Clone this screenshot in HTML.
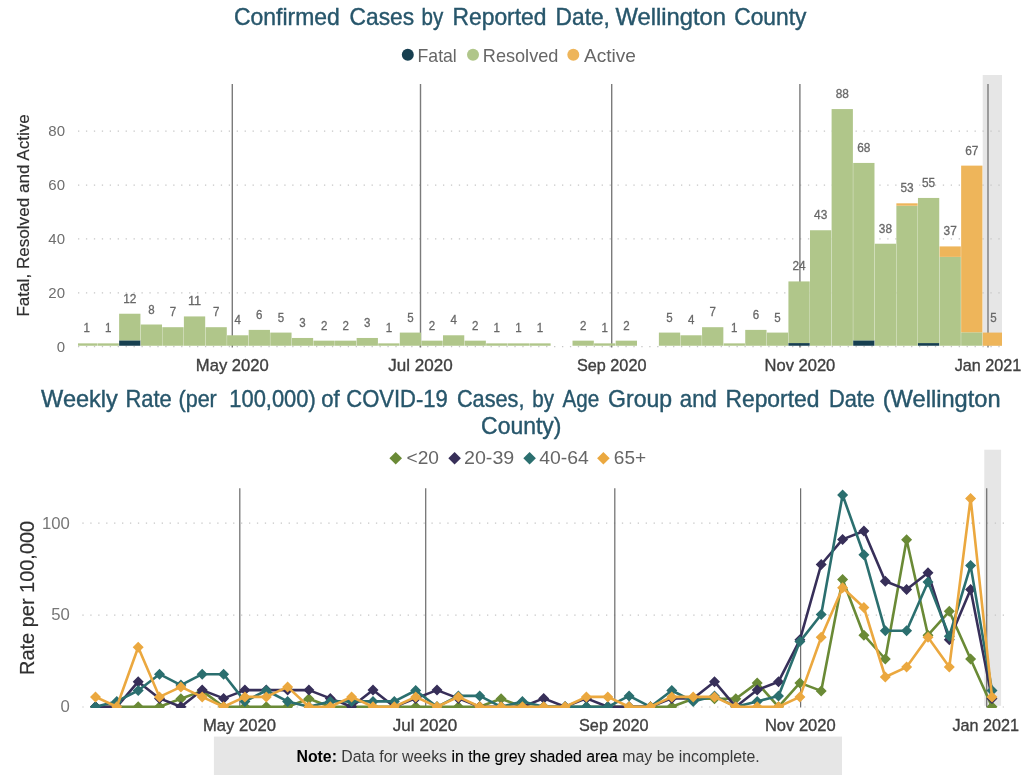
<!DOCTYPE html>
<html lang="en">
<head>
<meta charset="utf-8">
<title>Confirmed Cases by Reported Date, Wellington County</title>
<style>
html,body{margin:0;padding:0;background:#fff;}
body{width:1024px;height:775px;overflow:hidden;}
svg{display:block;font-family:"Liberation Sans","DejaVu Sans",sans-serif;}
</style>
</head>
<body>
<svg width="1024" height="775" viewBox="0 0 1024 775">
<defs>
<filter id="idf" x="0" y="0" width="1024" height="775" filterUnits="userSpaceOnUse" color-interpolation-filters="sRGB"><feOffset dx="0" dy="0"/></filter>
<clipPath id="c1"><rect x="78" y="70" width="924" height="277"/></clipPath>
<clipPath id="c2"><rect x="82" y="440" width="922" height="268"/></clipPath>
</defs>
<rect width="1024" height="775" fill="#fff"/>
<g filter="url(#idf)">
<rect x="982.7" y="75" width="19.3" height="270.8" fill="#e6e6e6"/>
<line x1="78.0" x2="1002" y1="346.70" y2="346.70" stroke="#c6c6c6" stroke-width="1.2" stroke-dasharray="1.3 6.634"/>
<line x1="78.0" x2="1002" y1="292.82" y2="292.82" stroke="#c6c6c6" stroke-width="1.2" stroke-dasharray="1.3 6.634"/>
<line x1="78.0" x2="1002" y1="238.94" y2="238.94" stroke="#c6c6c6" stroke-width="1.2" stroke-dasharray="1.3 6.634"/>
<line x1="78.0" x2="1002" y1="185.06" y2="185.06" stroke="#c6c6c6" stroke-width="1.2" stroke-dasharray="1.3 6.634"/>
<line x1="78.0" x2="1002" y1="131.18" y2="131.18" stroke="#c6c6c6" stroke-width="1.2" stroke-dasharray="1.3 6.634"/>
<line x1="232.3" x2="232.3" y1="84.0" y2="347.4" stroke="#7b7b7b" stroke-width="1.4"/>
<line x1="420.5" x2="420.5" y1="84.0" y2="347.4" stroke="#7b7b7b" stroke-width="1.4"/>
<line x1="611.7" x2="611.7" y1="84.0" y2="347.4" stroke="#7b7b7b" stroke-width="1.4"/>
<line x1="799.9" x2="799.9" y1="84.0" y2="347.4" stroke="#7b7b7b" stroke-width="1.4"/>
<line x1="988.0" x2="988.0" y1="84.0" y2="347.4" stroke="#7b7b7b" stroke-width="1.4"/>
<g clip-path="url(#c1)">
<rect x="75.95" y="343.36" width="21.29" height="2.39" fill="#b0c68a"/>
<rect x="97.54" y="343.36" width="21.29" height="2.39" fill="#b0c68a"/>
<rect x="119.13" y="340.36" width="21.29" height="5.39" fill="#173f50"/>
<rect x="119.13" y="313.73" width="21.29" height="26.63" fill="#b0c68a"/>
<rect x="140.72" y="324.51" width="21.29" height="21.24" fill="#b0c68a"/>
<rect x="162.31" y="327.20" width="21.29" height="18.55" fill="#b0c68a"/>
<rect x="183.90" y="316.43" width="21.29" height="29.32" fill="#b0c68a"/>
<rect x="205.49" y="327.20" width="21.29" height="18.55" fill="#b0c68a"/>
<rect x="227.08" y="335.28" width="21.29" height="10.47" fill="#b0c68a"/>
<rect x="248.67" y="329.89" width="21.29" height="15.86" fill="#b0c68a"/>
<rect x="270.26" y="332.59" width="21.29" height="13.16" fill="#b0c68a"/>
<rect x="291.85" y="337.97" width="21.29" height="7.78" fill="#b0c68a"/>
<rect x="313.44" y="340.66" width="21.29" height="5.09" fill="#b0c68a"/>
<rect x="335.03" y="340.66" width="21.29" height="5.09" fill="#b0c68a"/>
<rect x="356.62" y="337.97" width="21.29" height="7.78" fill="#b0c68a"/>
<rect x="378.21" y="343.36" width="21.29" height="2.39" fill="#b0c68a"/>
<rect x="399.80" y="332.59" width="21.29" height="13.16" fill="#b0c68a"/>
<rect x="421.39" y="340.66" width="21.29" height="5.09" fill="#b0c68a"/>
<rect x="442.98" y="335.28" width="21.29" height="10.47" fill="#b0c68a"/>
<rect x="464.57" y="340.66" width="21.29" height="5.09" fill="#b0c68a"/>
<rect x="486.16" y="343.36" width="21.29" height="2.39" fill="#b0c68a"/>
<rect x="507.75" y="343.36" width="21.29" height="2.39" fill="#b0c68a"/>
<rect x="529.34" y="343.36" width="21.29" height="2.39" fill="#b0c68a"/>
<rect x="572.52" y="340.66" width="21.29" height="5.09" fill="#b0c68a"/>
<rect x="594.11" y="343.36" width="21.29" height="2.39" fill="#b0c68a"/>
<rect x="615.70" y="340.66" width="21.29" height="5.09" fill="#b0c68a"/>
<rect x="658.88" y="332.59" width="21.29" height="13.16" fill="#b0c68a"/>
<rect x="680.47" y="335.28" width="21.29" height="10.47" fill="#b0c68a"/>
<rect x="702.06" y="327.20" width="21.29" height="18.55" fill="#b0c68a"/>
<rect x="723.65" y="343.36" width="21.29" height="2.39" fill="#b0c68a"/>
<rect x="745.24" y="329.89" width="21.29" height="15.86" fill="#b0c68a"/>
<rect x="766.83" y="332.59" width="21.29" height="13.16" fill="#b0c68a"/>
<rect x="788.42" y="343.06" width="21.29" height="2.69" fill="#173f50"/>
<rect x="788.42" y="281.42" width="21.29" height="61.64" fill="#b0c68a"/>
<rect x="810.01" y="230.25" width="21.29" height="115.50" fill="#b0c68a"/>
<rect x="831.60" y="109.07" width="21.29" height="236.68" fill="#b0c68a"/>
<rect x="853.19" y="340.36" width="21.29" height="5.39" fill="#173f50"/>
<rect x="853.19" y="162.93" width="21.29" height="177.44" fill="#b0c68a"/>
<rect x="874.78" y="243.72" width="21.29" height="102.03" fill="#b0c68a"/>
<rect x="896.37" y="205.71" width="21.29" height="140.04" fill="#b0c68a"/>
<rect x="896.37" y="203.32" width="21.29" height="2.39" fill="#eeb55a"/>
<rect x="917.96" y="343.06" width="21.29" height="2.69" fill="#173f50"/>
<rect x="917.96" y="197.94" width="21.29" height="145.12" fill="#b0c68a"/>
<rect x="939.55" y="256.88" width="21.29" height="88.87" fill="#b0c68a"/>
<rect x="939.55" y="246.41" width="21.29" height="10.47" fill="#eeb55a"/>
<rect x="961.14" y="332.29" width="21.29" height="13.46" fill="#b0c68a"/>
<rect x="961.14" y="165.62" width="21.29" height="166.67" fill="#eeb55a"/>
<rect x="982.73" y="332.59" width="21.29" height="13.16" fill="#eeb55a"/>
</g>
<g font-size="12.5" fill="#686868" stroke="#686868" stroke-width="0.3" text-anchor="middle">
<text x="86.59" y="332.36" textLength="6.4" lengthAdjust="spacingAndGlyphs">1</text>
<text x="108.19" y="332.36" textLength="6.4" lengthAdjust="spacingAndGlyphs">1</text>
<text x="129.78" y="302.73" textLength="13.2" lengthAdjust="spacingAndGlyphs">12</text>
<text x="151.37" y="313.51" textLength="6.4" lengthAdjust="spacingAndGlyphs">8</text>
<text x="172.95" y="316.20" textLength="6.4" lengthAdjust="spacingAndGlyphs">7</text>
<text x="194.55" y="305.43" textLength="13.2" lengthAdjust="spacingAndGlyphs">11</text>
<text x="216.13" y="316.20" textLength="6.4" lengthAdjust="spacingAndGlyphs">7</text>
<text x="237.73" y="324.28" textLength="6.4" lengthAdjust="spacingAndGlyphs">4</text>
<text x="259.31" y="318.89" textLength="6.4" lengthAdjust="spacingAndGlyphs">6</text>
<text x="280.90" y="321.59" textLength="6.4" lengthAdjust="spacingAndGlyphs">5</text>
<text x="302.50" y="326.97" textLength="6.4" lengthAdjust="spacingAndGlyphs">3</text>
<text x="324.08" y="329.66" textLength="6.4" lengthAdjust="spacingAndGlyphs">2</text>
<text x="345.68" y="329.66" textLength="6.4" lengthAdjust="spacingAndGlyphs">2</text>
<text x="367.26" y="326.97" textLength="6.4" lengthAdjust="spacingAndGlyphs">3</text>
<text x="388.86" y="332.36" textLength="6.4" lengthAdjust="spacingAndGlyphs">1</text>
<text x="410.44" y="321.59" textLength="6.4" lengthAdjust="spacingAndGlyphs">5</text>
<text x="432.04" y="329.66" textLength="6.4" lengthAdjust="spacingAndGlyphs">2</text>
<text x="453.62" y="324.28" textLength="6.4" lengthAdjust="spacingAndGlyphs">4</text>
<text x="475.22" y="329.66" textLength="6.4" lengthAdjust="spacingAndGlyphs">2</text>
<text x="496.81" y="332.36" textLength="6.4" lengthAdjust="spacingAndGlyphs">1</text>
<text x="518.39" y="332.36" textLength="6.4" lengthAdjust="spacingAndGlyphs">1</text>
<text x="539.99" y="332.36" textLength="6.4" lengthAdjust="spacingAndGlyphs">1</text>
<text x="583.16" y="329.66" textLength="6.4" lengthAdjust="spacingAndGlyphs">2</text>
<text x="604.75" y="332.36" textLength="6.4" lengthAdjust="spacingAndGlyphs">1</text>
<text x="626.34" y="329.66" textLength="6.4" lengthAdjust="spacingAndGlyphs">2</text>
<text x="669.52" y="321.59" textLength="6.4" lengthAdjust="spacingAndGlyphs">5</text>
<text x="691.11" y="324.28" textLength="6.4" lengthAdjust="spacingAndGlyphs">4</text>
<text x="712.70" y="316.20" textLength="6.4" lengthAdjust="spacingAndGlyphs">7</text>
<text x="734.29" y="332.36" textLength="6.4" lengthAdjust="spacingAndGlyphs">1</text>
<text x="755.88" y="318.89" textLength="6.4" lengthAdjust="spacingAndGlyphs">6</text>
<text x="777.47" y="321.59" textLength="6.4" lengthAdjust="spacingAndGlyphs">5</text>
<text x="799.06" y="270.42" textLength="13.2" lengthAdjust="spacingAndGlyphs">24</text>
<text x="820.65" y="219.25" textLength="13.2" lengthAdjust="spacingAndGlyphs">43</text>
<text x="842.25" y="98.07" textLength="13.2" lengthAdjust="spacingAndGlyphs">88</text>
<text x="863.83" y="151.93" textLength="13.2" lengthAdjust="spacingAndGlyphs">68</text>
<text x="885.42" y="232.72" textLength="13.2" lengthAdjust="spacingAndGlyphs">38</text>
<text x="907.01" y="192.32" textLength="13.2" lengthAdjust="spacingAndGlyphs">53</text>
<text x="928.60" y="186.94" textLength="13.2" lengthAdjust="spacingAndGlyphs">55</text>
<text x="950.19" y="235.41" textLength="13.2" lengthAdjust="spacingAndGlyphs">37</text>
<text x="971.78" y="154.62" textLength="13.2" lengthAdjust="spacingAndGlyphs">67</text>
<text x="993.38" y="321.59" textLength="6.4" lengthAdjust="spacingAndGlyphs">5</text>
</g>
<g font-size="15" fill="#6e6e6e" text-anchor="end">
<text x="65.0" y="351.50">0</text>
<text x="65.0" y="297.62">20</text>
<text x="65.0" y="243.74">40</text>
<text x="65.0" y="189.86">60</text>
<text x="65.0" y="135.98">80</text>
</g>
<g font-size="17" fill="#404040" stroke="#404040" stroke-width="0.35" text-anchor="middle">
<text x="232.30" y="370.9" textLength="73.0" lengthAdjust="spacingAndGlyphs">May 2020</text>
<text x="420.50" y="370.9" textLength="64.5" lengthAdjust="spacingAndGlyphs">Jul 2020</text>
<text x="611.70" y="370.9" textLength="69.5" lengthAdjust="spacingAndGlyphs">Sep 2020</text>
<text x="799.90" y="370.9" textLength="70.8" lengthAdjust="spacingAndGlyphs">Nov 2020</text>
<text x="988.00" y="370.9" textLength="66.6" lengthAdjust="spacingAndGlyphs">Jan 2021</text>
</g>
<text transform="translate(28.7,316.6) rotate(-90)" font-size="17.2" fill="#303030" stroke="#303030" stroke-width="0.2" textLength="202.4" lengthAdjust="spacingAndGlyphs">Fatal, Resolved and Active</text>
<g font-size="23.2" fill="#27566b" stroke="#27566b" stroke-width="0.4">
<text x="234.00" y="24.7" textLength="105.80" lengthAdjust="spacingAndGlyphs">Confirmed</text>
<text x="349.60" y="24.7" textLength="64.50" lengthAdjust="spacingAndGlyphs">Cases</text>
<text x="421.60" y="24.7" textLength="21.70" lengthAdjust="spacingAndGlyphs">by</text>
<text x="452.50" y="24.7" textLength="94.00" lengthAdjust="spacingAndGlyphs">Reported</text>
<text x="555.60" y="24.7" textLength="54.30" lengthAdjust="spacingAndGlyphs">Date,</text>
<text x="615.40" y="24.7" textLength="110.70" lengthAdjust="spacingAndGlyphs">Wellington</text>
<text x="734.20" y="24.7" textLength="72.20" lengthAdjust="spacingAndGlyphs">County</text>
</g>
<circle cx="407.8" cy="54.8" r="6" fill="#173f50"/>
<circle cx="473.0" cy="54.8" r="6" fill="#b0c68a"/>
<circle cx="573.3" cy="54.8" r="6" fill="#eeb55a"/>
<text x="417.60" y="61.70" font-size="17.7" fill="#666" textLength="39.20" lengthAdjust="spacingAndGlyphs">Fatal</text>
<text x="482.80" y="61.70" font-size="17.7" fill="#666" textLength="75.60" lengthAdjust="spacingAndGlyphs">Resolved</text>
<text x="584.00" y="61.70" font-size="17.7" fill="#666" textLength="52.00" lengthAdjust="spacingAndGlyphs">Active</text>
<rect x="984.3" y="449.7" width="16.8" height="256.1" fill="#e6e6e6"/>
<line x1="82.35" x2="1004.6" y1="707.00" y2="707.00" stroke="#c6c6c6" stroke-width="1.2" stroke-dasharray="1.3 6.634"/>
<line x1="82.35" x2="1004.6" y1="615.10" y2="615.10" stroke="#c6c6c6" stroke-width="1.2" stroke-dasharray="1.3 6.634"/>
<line x1="82.35" x2="1004.6" y1="523.20" y2="523.20" stroke="#c6c6c6" stroke-width="1.2" stroke-dasharray="1.3 6.634"/>
<line x1="239.8" x2="239.8" y1="488.3" y2="707.5" stroke="#707070" stroke-width="1.25"/>
<line x1="425.7" x2="425.7" y1="488.3" y2="707.5" stroke="#707070" stroke-width="1.25"/>
<line x1="614.8" x2="614.8" y1="488.3" y2="707.5" stroke="#707070" stroke-width="1.25"/>
<line x1="800.6" x2="800.6" y1="488.3" y2="707.5" stroke="#707070" stroke-width="1.25"/>
<line x1="986.7" x2="986.7" y1="488.3" y2="707.5" stroke="#707070" stroke-width="1.25"/>
<g clip-path="url(#c2)">
<polyline fill="none" stroke="#6a8a36" stroke-width="2.6" stroke-linejoin="round" points="95.5,706.8 116.8,706.8 138.2,706.8 159.5,706.8 180.9,698.8 202.2,690.9 223.6,706.8 244.9,706.8 266.3,706.8 287.6,706.8 308.9,698.8 330.3,706.8 351.6,706.8 373.0,706.8 394.3,706.8 415.7,706.8 437.0,706.8 458.4,706.8 479.7,706.8 501.1,698.8 522.4,706.8 543.7,706.8 565.1,706.8 586.4,706.8 607.8,706.8 629.1,706.8 650.5,706.8 671.8,706.8 693.2,698.8 714.5,698.8 735.8,698.8 757.2,682.9 778.5,706.8 799.9,682.9 821.2,690.9 842.6,579.5 863.9,635.2 885.3,659.0 906.6,539.7 928.0,635.2 949.3,611.3 970.6,659.0 992.0,706.8"/>
<path fill="#6a8a36" d="M95.5 701.3l5.5 5.5l-5.5 5.5l-5.5 -5.5zM116.8 701.3l5.5 5.5l-5.5 5.5l-5.5 -5.5zM138.2 701.3l5.5 5.5l-5.5 5.5l-5.5 -5.5zM159.5 701.3l5.5 5.5l-5.5 5.5l-5.5 -5.5zM180.9 693.3l5.5 5.5l-5.5 5.5l-5.5 -5.5zM202.2 685.4l5.5 5.5l-5.5 5.5l-5.5 -5.5zM223.6 701.3l5.5 5.5l-5.5 5.5l-5.5 -5.5zM244.9 701.3l5.5 5.5l-5.5 5.5l-5.5 -5.5zM266.3 701.3l5.5 5.5l-5.5 5.5l-5.5 -5.5zM287.6 701.3l5.5 5.5l-5.5 5.5l-5.5 -5.5zM308.9 693.3l5.5 5.5l-5.5 5.5l-5.5 -5.5zM330.3 701.3l5.5 5.5l-5.5 5.5l-5.5 -5.5zM351.6 701.3l5.5 5.5l-5.5 5.5l-5.5 -5.5zM373.0 701.3l5.5 5.5l-5.5 5.5l-5.5 -5.5zM394.3 701.3l5.5 5.5l-5.5 5.5l-5.5 -5.5zM415.7 701.3l5.5 5.5l-5.5 5.5l-5.5 -5.5zM437.0 701.3l5.5 5.5l-5.5 5.5l-5.5 -5.5zM458.4 701.3l5.5 5.5l-5.5 5.5l-5.5 -5.5zM479.7 701.3l5.5 5.5l-5.5 5.5l-5.5 -5.5zM501.1 693.3l5.5 5.5l-5.5 5.5l-5.5 -5.5zM522.4 701.3l5.5 5.5l-5.5 5.5l-5.5 -5.5zM543.7 701.3l5.5 5.5l-5.5 5.5l-5.5 -5.5zM565.1 701.3l5.5 5.5l-5.5 5.5l-5.5 -5.5zM586.4 701.3l5.5 5.5l-5.5 5.5l-5.5 -5.5zM607.8 701.3l5.5 5.5l-5.5 5.5l-5.5 -5.5zM629.1 701.3l5.5 5.5l-5.5 5.5l-5.5 -5.5zM650.5 701.3l5.5 5.5l-5.5 5.5l-5.5 -5.5zM671.8 701.3l5.5 5.5l-5.5 5.5l-5.5 -5.5zM693.2 693.3l5.5 5.5l-5.5 5.5l-5.5 -5.5zM714.5 693.3l5.5 5.5l-5.5 5.5l-5.5 -5.5zM735.8 693.3l5.5 5.5l-5.5 5.5l-5.5 -5.5zM757.2 677.4l5.5 5.5l-5.5 5.5l-5.5 -5.5zM778.5 701.3l5.5 5.5l-5.5 5.5l-5.5 -5.5zM799.9 677.4l5.5 5.5l-5.5 5.5l-5.5 -5.5zM821.2 685.4l5.5 5.5l-5.5 5.5l-5.5 -5.5zM842.6 574.0l5.5 5.5l-5.5 5.5l-5.5 -5.5zM863.9 629.7l5.5 5.5l-5.5 5.5l-5.5 -5.5zM885.3 653.5l5.5 5.5l-5.5 5.5l-5.5 -5.5zM906.6 534.2l5.5 5.5l-5.5 5.5l-5.5 -5.5zM928.0 629.7l5.5 5.5l-5.5 5.5l-5.5 -5.5zM949.3 605.8l5.5 5.5l-5.5 5.5l-5.5 -5.5zM970.6 653.5l5.5 5.5l-5.5 5.5l-5.5 -5.5zM992.0 701.3l5.5 5.5l-5.5 5.5l-5.5 -5.5z"/>
<polyline fill="none" stroke="#372f59" stroke-width="2.6" stroke-linejoin="round" points="95.5,706.8 116.8,706.8 138.2,681.7 159.5,698.4 180.9,706.8 202.2,690.1 223.6,698.4 244.9,690.1 266.3,690.1 287.6,690.1 308.9,690.1 330.3,698.4 351.6,706.8 373.0,690.1 394.3,706.8 415.7,698.4 437.0,690.1 458.4,698.4 479.7,706.8 501.1,706.8 522.4,706.8 543.7,698.4 565.1,706.8 586.4,698.4 607.8,706.8 629.1,706.8 650.5,706.8 671.8,698.4 693.2,698.4 714.5,681.7 735.8,706.8 757.2,690.1 778.5,681.7 799.9,639.8 821.2,564.5 842.6,539.4 863.9,531.0 885.3,581.2 906.6,589.6 928.0,572.8 949.3,639.8 970.6,589.6 992.0,698.4"/>
<path fill="#372f59" d="M95.5 701.3l5.5 5.5l-5.5 5.5l-5.5 -5.5zM116.8 701.3l5.5 5.5l-5.5 5.5l-5.5 -5.5zM138.2 676.2l5.5 5.5l-5.5 5.5l-5.5 -5.5zM159.5 692.9l5.5 5.5l-5.5 5.5l-5.5 -5.5zM180.9 701.3l5.5 5.5l-5.5 5.5l-5.5 -5.5zM202.2 684.6l5.5 5.5l-5.5 5.5l-5.5 -5.5zM223.6 692.9l5.5 5.5l-5.5 5.5l-5.5 -5.5zM244.9 684.6l5.5 5.5l-5.5 5.5l-5.5 -5.5zM266.3 684.6l5.5 5.5l-5.5 5.5l-5.5 -5.5zM287.6 684.6l5.5 5.5l-5.5 5.5l-5.5 -5.5zM308.9 684.6l5.5 5.5l-5.5 5.5l-5.5 -5.5zM330.3 692.9l5.5 5.5l-5.5 5.5l-5.5 -5.5zM351.6 701.3l5.5 5.5l-5.5 5.5l-5.5 -5.5zM373.0 684.6l5.5 5.5l-5.5 5.5l-5.5 -5.5zM394.3 701.3l5.5 5.5l-5.5 5.5l-5.5 -5.5zM415.7 692.9l5.5 5.5l-5.5 5.5l-5.5 -5.5zM437.0 684.6l5.5 5.5l-5.5 5.5l-5.5 -5.5zM458.4 692.9l5.5 5.5l-5.5 5.5l-5.5 -5.5zM479.7 701.3l5.5 5.5l-5.5 5.5l-5.5 -5.5zM501.1 701.3l5.5 5.5l-5.5 5.5l-5.5 -5.5zM522.4 701.3l5.5 5.5l-5.5 5.5l-5.5 -5.5zM543.7 692.9l5.5 5.5l-5.5 5.5l-5.5 -5.5zM565.1 701.3l5.5 5.5l-5.5 5.5l-5.5 -5.5zM586.4 692.9l5.5 5.5l-5.5 5.5l-5.5 -5.5zM607.8 701.3l5.5 5.5l-5.5 5.5l-5.5 -5.5zM629.1 701.3l5.5 5.5l-5.5 5.5l-5.5 -5.5zM650.5 701.3l5.5 5.5l-5.5 5.5l-5.5 -5.5zM671.8 692.9l5.5 5.5l-5.5 5.5l-5.5 -5.5zM693.2 692.9l5.5 5.5l-5.5 5.5l-5.5 -5.5zM714.5 676.2l5.5 5.5l-5.5 5.5l-5.5 -5.5zM735.8 701.3l5.5 5.5l-5.5 5.5l-5.5 -5.5zM757.2 684.6l5.5 5.5l-5.5 5.5l-5.5 -5.5zM778.5 676.2l5.5 5.5l-5.5 5.5l-5.5 -5.5zM799.9 634.3l5.5 5.5l-5.5 5.5l-5.5 -5.5zM821.2 559.0l5.5 5.5l-5.5 5.5l-5.5 -5.5zM842.6 533.9l5.5 5.5l-5.5 5.5l-5.5 -5.5zM863.9 525.5l5.5 5.5l-5.5 5.5l-5.5 -5.5zM885.3 575.7l5.5 5.5l-5.5 5.5l-5.5 -5.5zM906.6 584.1l5.5 5.5l-5.5 5.5l-5.5 -5.5zM928.0 567.3l5.5 5.5l-5.5 5.5l-5.5 -5.5zM949.3 634.3l5.5 5.5l-5.5 5.5l-5.5 -5.5zM970.6 584.1l5.5 5.5l-5.5 5.5l-5.5 -5.5zM992.0 692.9l5.5 5.5l-5.5 5.5l-5.5 -5.5z"/>
<polyline fill="none" stroke="#2b6f6f" stroke-width="2.6" stroke-linejoin="round" points="95.5,706.8 116.8,701.4 138.2,690.5 159.5,674.2 180.9,685.1 202.2,674.2 223.6,674.2 244.9,701.4 266.3,690.5 287.6,701.4 308.9,706.8 330.3,701.4 351.6,701.4 373.0,701.4 394.3,701.4 415.7,690.5 437.0,706.8 458.4,695.9 479.7,695.9 501.1,706.8 522.4,701.4 543.7,706.8 565.1,706.8 586.4,706.8 607.8,706.8 629.1,695.9 650.5,706.8 671.8,690.5 693.2,701.4 714.5,695.9 735.8,706.8 757.2,701.4 778.5,695.9 799.9,641.6 821.2,614.5 842.6,495.0 863.9,554.7 885.3,630.8 906.6,630.8 928.0,581.9 949.3,636.2 970.6,565.6 992.0,690.5"/>
<path fill="#2b6f6f" d="M95.5 701.3l5.5 5.5l-5.5 5.5l-5.5 -5.5zM116.8 695.9l5.5 5.5l-5.5 5.5l-5.5 -5.5zM138.2 685.0l5.5 5.5l-5.5 5.5l-5.5 -5.5zM159.5 668.7l5.5 5.5l-5.5 5.5l-5.5 -5.5zM180.9 679.6l5.5 5.5l-5.5 5.5l-5.5 -5.5zM202.2 668.7l5.5 5.5l-5.5 5.5l-5.5 -5.5zM223.6 668.7l5.5 5.5l-5.5 5.5l-5.5 -5.5zM244.9 695.9l5.5 5.5l-5.5 5.5l-5.5 -5.5zM266.3 685.0l5.5 5.5l-5.5 5.5l-5.5 -5.5zM287.6 695.9l5.5 5.5l-5.5 5.5l-5.5 -5.5zM308.9 701.3l5.5 5.5l-5.5 5.5l-5.5 -5.5zM330.3 695.9l5.5 5.5l-5.5 5.5l-5.5 -5.5zM351.6 695.9l5.5 5.5l-5.5 5.5l-5.5 -5.5zM373.0 695.9l5.5 5.5l-5.5 5.5l-5.5 -5.5zM394.3 695.9l5.5 5.5l-5.5 5.5l-5.5 -5.5zM415.7 685.0l5.5 5.5l-5.5 5.5l-5.5 -5.5zM437.0 701.3l5.5 5.5l-5.5 5.5l-5.5 -5.5zM458.4 690.4l5.5 5.5l-5.5 5.5l-5.5 -5.5zM479.7 690.4l5.5 5.5l-5.5 5.5l-5.5 -5.5zM501.1 701.3l5.5 5.5l-5.5 5.5l-5.5 -5.5zM522.4 695.9l5.5 5.5l-5.5 5.5l-5.5 -5.5zM543.7 701.3l5.5 5.5l-5.5 5.5l-5.5 -5.5zM565.1 701.3l5.5 5.5l-5.5 5.5l-5.5 -5.5zM586.4 701.3l5.5 5.5l-5.5 5.5l-5.5 -5.5zM607.8 701.3l5.5 5.5l-5.5 5.5l-5.5 -5.5zM629.1 690.4l5.5 5.5l-5.5 5.5l-5.5 -5.5zM650.5 701.3l5.5 5.5l-5.5 5.5l-5.5 -5.5zM671.8 685.0l5.5 5.5l-5.5 5.5l-5.5 -5.5zM693.2 695.9l5.5 5.5l-5.5 5.5l-5.5 -5.5zM714.5 690.4l5.5 5.5l-5.5 5.5l-5.5 -5.5zM735.8 701.3l5.5 5.5l-5.5 5.5l-5.5 -5.5zM757.2 695.9l5.5 5.5l-5.5 5.5l-5.5 -5.5zM778.5 690.4l5.5 5.5l-5.5 5.5l-5.5 -5.5zM799.9 636.1l5.5 5.5l-5.5 5.5l-5.5 -5.5zM821.2 609.0l5.5 5.5l-5.5 5.5l-5.5 -5.5zM842.6 489.5l5.5 5.5l-5.5 5.5l-5.5 -5.5zM863.9 549.2l5.5 5.5l-5.5 5.5l-5.5 -5.5zM885.3 625.3l5.5 5.5l-5.5 5.5l-5.5 -5.5zM906.6 625.3l5.5 5.5l-5.5 5.5l-5.5 -5.5zM928.0 576.4l5.5 5.5l-5.5 5.5l-5.5 -5.5zM949.3 630.7l5.5 5.5l-5.5 5.5l-5.5 -5.5zM970.6 560.1l5.5 5.5l-5.5 5.5l-5.5 -5.5zM992.0 685.0l5.5 5.5l-5.5 5.5l-5.5 -5.5z"/>
<polyline fill="none" stroke="#eba83f" stroke-width="2.6" stroke-linejoin="round" points="95.5,696.9 116.8,706.8 138.2,647.2 159.5,696.9 180.9,686.9 202.2,696.9 223.6,706.8 244.9,696.9 266.3,696.9 287.6,686.9 308.9,706.8 330.3,706.8 351.6,696.9 373.0,706.8 394.3,706.8 415.7,696.9 437.0,706.8 458.4,696.9 479.7,706.8 501.1,706.8 522.4,706.8 543.7,706.8 565.1,706.8 586.4,696.9 607.8,696.9 629.1,706.8 650.5,706.8 671.8,696.9 693.2,696.9 714.5,696.9 735.8,706.8 757.2,706.8 778.5,706.8 799.9,696.9 821.2,637.3 842.6,587.7 863.9,607.5 885.3,677.0 906.6,667.1 928.0,637.3 949.3,667.1 970.6,498.4 992.0,696.9"/>
<path fill="#eba83f" d="M95.5 691.4l5.5 5.5l-5.5 5.5l-5.5 -5.5zM116.8 701.3l5.5 5.5l-5.5 5.5l-5.5 -5.5zM138.2 641.7l5.5 5.5l-5.5 5.5l-5.5 -5.5zM159.5 691.4l5.5 5.5l-5.5 5.5l-5.5 -5.5zM180.9 681.4l5.5 5.5l-5.5 5.5l-5.5 -5.5zM202.2 691.4l5.5 5.5l-5.5 5.5l-5.5 -5.5zM223.6 701.3l5.5 5.5l-5.5 5.5l-5.5 -5.5zM244.9 691.4l5.5 5.5l-5.5 5.5l-5.5 -5.5zM266.3 691.4l5.5 5.5l-5.5 5.5l-5.5 -5.5zM287.6 681.4l5.5 5.5l-5.5 5.5l-5.5 -5.5zM308.9 701.3l5.5 5.5l-5.5 5.5l-5.5 -5.5zM330.3 701.3l5.5 5.5l-5.5 5.5l-5.5 -5.5zM351.6 691.4l5.5 5.5l-5.5 5.5l-5.5 -5.5zM373.0 701.3l5.5 5.5l-5.5 5.5l-5.5 -5.5zM394.3 701.3l5.5 5.5l-5.5 5.5l-5.5 -5.5zM415.7 691.4l5.5 5.5l-5.5 5.5l-5.5 -5.5zM437.0 701.3l5.5 5.5l-5.5 5.5l-5.5 -5.5zM458.4 691.4l5.5 5.5l-5.5 5.5l-5.5 -5.5zM479.7 701.3l5.5 5.5l-5.5 5.5l-5.5 -5.5zM501.1 701.3l5.5 5.5l-5.5 5.5l-5.5 -5.5zM522.4 701.3l5.5 5.5l-5.5 5.5l-5.5 -5.5zM543.7 701.3l5.5 5.5l-5.5 5.5l-5.5 -5.5zM565.1 701.3l5.5 5.5l-5.5 5.5l-5.5 -5.5zM586.4 691.4l5.5 5.5l-5.5 5.5l-5.5 -5.5zM607.8 691.4l5.5 5.5l-5.5 5.5l-5.5 -5.5zM629.1 701.3l5.5 5.5l-5.5 5.5l-5.5 -5.5zM650.5 701.3l5.5 5.5l-5.5 5.5l-5.5 -5.5zM671.8 691.4l5.5 5.5l-5.5 5.5l-5.5 -5.5zM693.2 691.4l5.5 5.5l-5.5 5.5l-5.5 -5.5zM714.5 691.4l5.5 5.5l-5.5 5.5l-5.5 -5.5zM735.8 701.3l5.5 5.5l-5.5 5.5l-5.5 -5.5zM757.2 701.3l5.5 5.5l-5.5 5.5l-5.5 -5.5zM778.5 701.3l5.5 5.5l-5.5 5.5l-5.5 -5.5zM799.9 691.4l5.5 5.5l-5.5 5.5l-5.5 -5.5zM821.2 631.8l5.5 5.5l-5.5 5.5l-5.5 -5.5zM842.6 582.2l5.5 5.5l-5.5 5.5l-5.5 -5.5zM863.9 602.0l5.5 5.5l-5.5 5.5l-5.5 -5.5zM885.3 671.5l5.5 5.5l-5.5 5.5l-5.5 -5.5zM906.6 661.6l5.5 5.5l-5.5 5.5l-5.5 -5.5zM928.0 631.8l5.5 5.5l-5.5 5.5l-5.5 -5.5zM949.3 661.6l5.5 5.5l-5.5 5.5l-5.5 -5.5zM970.6 492.9l5.5 5.5l-5.5 5.5l-5.5 -5.5zM992.0 691.4l5.5 5.5l-5.5 5.5l-5.5 -5.5z"/>
</g>
<g font-size="17.4" fill="#777" text-anchor="end">
<text x="69.8" y="712.30" textLength="9.3" lengthAdjust="spacingAndGlyphs">0</text>
<text x="69.8" y="620.40" textLength="18.6" lengthAdjust="spacingAndGlyphs">50</text>
<text x="69.8" y="528.50" textLength="27.9" lengthAdjust="spacingAndGlyphs">100</text>
</g>
<g font-size="17" fill="#404040" stroke="#404040" stroke-width="0.35" text-anchor="middle">
<text x="239.50" y="730.9" textLength="73.0" lengthAdjust="spacingAndGlyphs">May 2020</text>
<text x="425.10" y="730.9" textLength="64.5" lengthAdjust="spacingAndGlyphs">Jul 2020</text>
<text x="613.80" y="730.9" textLength="69.5" lengthAdjust="spacingAndGlyphs">Sep 2020</text>
<text x="800.30" y="730.9" textLength="70.8" lengthAdjust="spacingAndGlyphs">Nov 2020</text>
<text x="985.80" y="730.9" textLength="66.6" lengthAdjust="spacingAndGlyphs">Jan 2021</text>
</g>
<text transform="translate(34.0,675.0) rotate(-90)" font-size="19.3" fill="#303030" stroke="#303030" stroke-width="0.2" textLength="154.2" lengthAdjust="spacingAndGlyphs">Rate per 100,000</text>
<g font-size="23.2" fill="#27566b" stroke="#27566b" stroke-width="0.4">
<text x="41.10" y="406.5" textLength="76.80" lengthAdjust="spacingAndGlyphs">Weekly</text>
<text x="125.40" y="406.5" textLength="46.30" lengthAdjust="spacingAndGlyphs">Rate</text>
<text x="178.50" y="406.5" textLength="38.30" lengthAdjust="spacingAndGlyphs">(per</text>
<text x="229.30" y="406.5" textLength="86.50" lengthAdjust="spacingAndGlyphs">100,000)</text>
<text x="321.30" y="406.5" textLength="18.40" lengthAdjust="spacingAndGlyphs">of</text>
<text x="346.30" y="406.5" textLength="101.50" lengthAdjust="spacingAndGlyphs">COVID-19</text>
<text x="456.90" y="406.5" textLength="67.60" lengthAdjust="spacingAndGlyphs">Cases,</text>
<text x="532.30" y="406.5" textLength="21.70" lengthAdjust="spacingAndGlyphs">by</text>
<text x="562.50" y="406.5" textLength="36.70" lengthAdjust="spacingAndGlyphs">Age</text>
<text x="608.10" y="406.5" textLength="64.00" lengthAdjust="spacingAndGlyphs">Group</text>
<text x="679.80" y="406.5" textLength="37.00" lengthAdjust="spacingAndGlyphs">and</text>
<text x="725.40" y="406.5" textLength="94.10" lengthAdjust="spacingAndGlyphs">Reported</text>
<text x="828.90" y="406.5" textLength="46.10" lengthAdjust="spacingAndGlyphs">Date</text>
<text x="882.70" y="406.5" textLength="118.00" lengthAdjust="spacingAndGlyphs">(Wellington</text>
<text x="481.1" y="433.7" textLength="80.3" lengthAdjust="spacingAndGlyphs">County)</text>
</g>
<path fill="#6a8a36" d="M395.7 451.9l6.3 6.3l-6.3 6.3l-6.3 -6.3z"/>
<path fill="#372f59" d="M454.6 451.9l6.3 6.3l-6.3 6.3l-6.3 -6.3z"/>
<path fill="#2b6f6f" d="M529.6 451.9l6.3 6.3l-6.3 6.3l-6.3 -6.3z"/>
<path fill="#eba83f" d="M603.4 451.9l6.3 6.3l-6.3 6.3l-6.3 -6.3z"/>
<text x="406.50" y="464.40" font-size="19.2" fill="#666" textLength="32.50" lengthAdjust="spacingAndGlyphs">&lt;20</text>
<text x="464.00" y="464.40" font-size="19.2" fill="#666" textLength="50.30" lengthAdjust="spacingAndGlyphs">20-39</text>
<text x="539.20" y="464.40" font-size="19.2" fill="#666" textLength="49.60" lengthAdjust="spacingAndGlyphs">40-64</text>
<text x="613.80" y="464.40" font-size="19.2" fill="#666" textLength="32.40" lengthAdjust="spacingAndGlyphs">65+</text>
<rect x="213.9" y="736.6" width="628.1" height="40" fill="#e6e6e6"/>
<text x="528.1" y="761.5" font-size="15.85" text-anchor="middle" fill="#3a3a3a"><tspan font-weight="bold" fill="#000">Note:</tspan> Data for weeks <tspan fill="#000" stroke="#000" stroke-width="0.12">in the grey shaded area</tspan> may be incomplete.</text>
</g>
</svg>
</body>
</html>
